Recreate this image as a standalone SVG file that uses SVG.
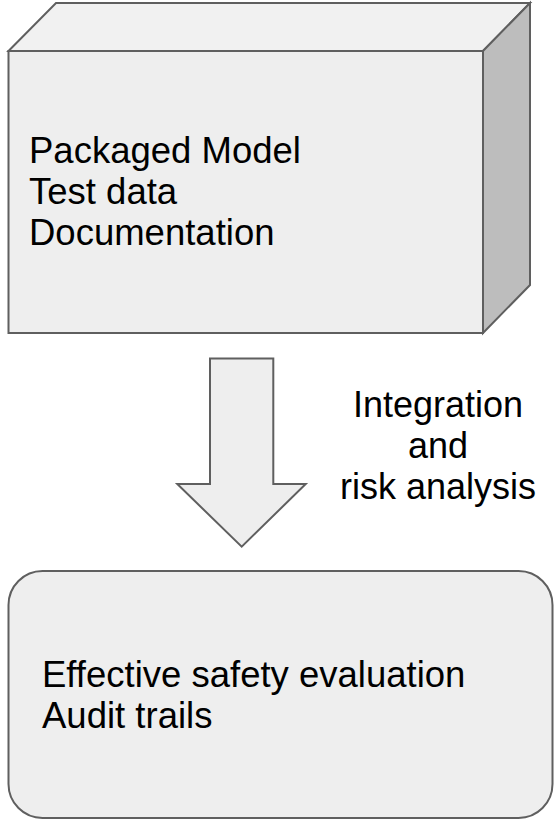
<svg xmlns="http://www.w3.org/2000/svg" width="557" height="822" viewBox="0 0 557 822">
  <style>
    .shape { stroke: #5f5f5f; stroke-width: 2; stroke-linejoin: miter; }
    .front { fill: #eeeeee; }
    .top { fill: #f1f1f1; }
    .side { fill: #bdbdbd; }
    .txt { font-family: "Liberation Sans", Arial, sans-serif; font-size: 36.5px; fill: #000000; }
    .label { font-family: "Liberation Sans", Arial, sans-serif; font-size: 36px; fill: #000000; text-anchor: middle; }
  </style>
  <rect width="557" height="822" fill="#ffffff"/>

  <!-- 3D package box -->
  <g id="package">
    <polygon class="shape top" points="8.5,51 56,3 530,3 483,51"/>
    <polygon class="shape side" points="483,51 530,3 530,285 483,333"/>
    <rect class="shape front" x="8.5" y="51" width="474.5" height="282"/>
    <text class="txt" x="29" y="163">Packaged Model</text>
    <text class="txt" x="29" y="204">Test data</text>
    <text class="txt" x="29" y="245">Documentation</text>
  </g>

  <!-- block arrow and its caption -->
  <g id="connectors">
    <path class="shape front" d="M210,358.5 H273.3 V484 H305.7 L241.7,546.7 L177.3,484 H210 Z"/>
    <g id="arrow-label">
      <text class="label" x="438" y="417">Integration</text>
      <text class="label" x="438" y="457.5">and</text>
      <text class="label" x="438" y="498.5">risk analysis</text>
    </g>
  </g>

  <!-- outcome box -->
  <g id="outcome">
    <rect class="shape front" x="8.5" y="571" width="544" height="247" rx="34" ry="34"/>
    <text class="txt" x="42" y="687">Effective safety evaluation</text>
    <text class="txt" x="42" y="728">Audit trails</text>
  </g>
</svg>
